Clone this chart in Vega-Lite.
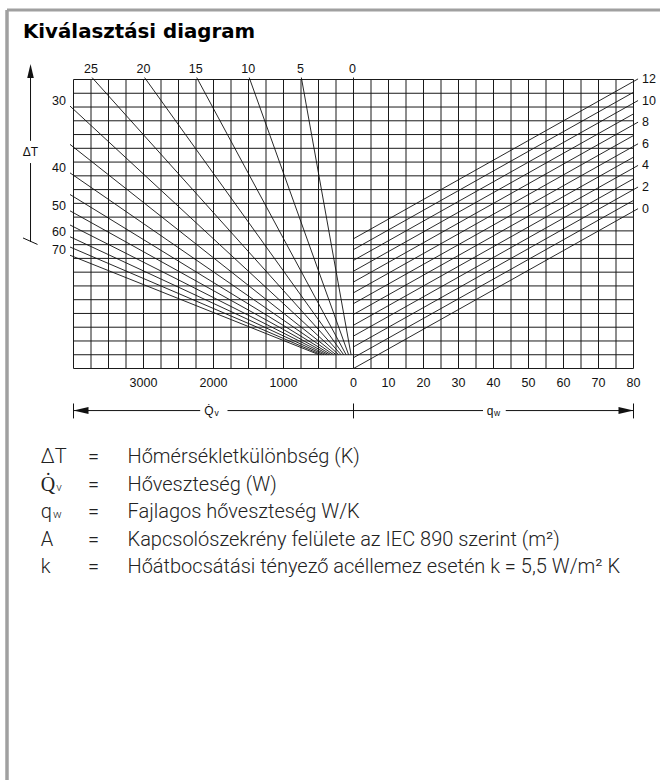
{
"$schema":"https://vega.github.io/schema/vega-lite/v6.json",
"width":653,"height":770,
"autosize":{"type":"none"},
"padding":{"left":7,"top":10,"right":0,"bottom":0},
"background":"#ffffff",
"title":{"text":"Kiválasztási diagram","anchor":"start","frame":"group","offset":-34,"dx":16,"fontSize":19.8,"fontWeight":"bold","font":"DejaVu Sans","color":"#000000"},
"config":{"view":{"stroke":null},"text":{"font":"Liberation Sans","color":"#111111"}},
"datasets":{
"vgridL":[{"Qv":250},{"Qv":500},{"Qv":750},{"Qv":1000},{"Qv":1250},{"Qv":1500},{"Qv":1750},{"Qv":2000},{"Qv":2250},{"Qv":2500},{"Qv":2750},{"Qv":3000},{"Qv":3250},{"Qv":3500},{"Qv":3750},{"Qv":4000}],
"vgridR":[{"qw":0},{"qw":5},{"qw":10},{"qw":15},{"qw":20},{"qw":25},{"qw":30},{"qw":35},{"qw":40},{"qw":45},{"qw":50},{"qw":55},{"qw":60},{"qw":65},{"qw":70},{"qw":75},{"qw":80}],
"hgrid":[{"u":0},{"u":7},{"u":14},{"u":21},{"u":28},{"u":35},{"u":42},{"u":49},{"u":56},{"u":63},{"u":70},{"u":77},{"u":84},{"u":91},{"u":98},{"u":105},{"u":112},{"u":119},{"u":126},{"u":133},{"u":140},{"u":147}],
"fan":[
{"dT":0,"Qv1":0,"u1":148,"Qv2":0,"u2":7},
{"dT":5,"Qv1":745,"u1":148,"Qv2":35,"u2":7},
{"dT":10,"Qv1":1490,"u1":148,"Qv2":70,"u2":7},
{"dT":15,"Qv1":2240,"u1":148,"Qv2":106,"u2":7},
{"dT":20,"Qv1":2985,"u1":148,"Qv2":141,"u2":7},
{"dT":25,"Qv1":3735,"u1":148,"Qv2":177,"u2":7},
{"dT":30,"Qv1":4050,"u1":133.5,"Qv2":212,"u2":7},
{"dT":35,"Qv1":4050,"u1":114,"Qv2":249,"u2":7},
{"dT":40,"Qv1":4050,"u1":99.5,"Qv2":285,"u2":7},
{"dT":45,"Qv1":4050,"u1":88.5,"Qv2":320,"u2":7},
{"dT":50,"Qv1":4050,"u1":80.2,"Qv2":354,"u2":7},
{"dT":55,"Qv1":4050,"u1":73,"Qv2":388,"u2":7},
{"dT":60,"Qv1":4050,"u1":67,"Qv2":423,"u2":7},
{"dT":65,"Qv1":4050,"u1":61.8,"Qv2":459,"u2":7},
{"dT":70,"Qv1":4050,"u1":57.6,"Qv2":492,"u2":7}],
"alines":[
{"A":0,"q1":0,"u1":0,"q2":81.3,"u2":81.3},
{"A":1,"q1":0,"u1":5.5,"q2":80,"u2":85.5},
{"A":2,"q1":0,"u1":11,"q2":81.3,"u2":92.3},
{"A":3,"q1":0,"u1":16.5,"q2":80,"u2":96.5},
{"A":4,"q1":0,"u1":22,"q2":81.3,"u2":103.3},
{"A":5,"q1":0,"u1":27.5,"q2":80,"u2":107.5},
{"A":6,"q1":0,"u1":33,"q2":81.3,"u2":114.3},
{"A":7,"q1":0,"u1":38.5,"q2":80,"u2":118.5},
{"A":8,"q1":0,"u1":44,"q2":81.3,"u2":125.3},
{"A":9,"q1":0,"u1":49.5,"q2":80,"u2":129.5},
{"A":10,"q1":0,"u1":55,"q2":81.3,"u2":136.3},
{"A":11,"q1":0,"u1":60.5,"q2":80,"u2":140.5},
{"A":12,"q1":0,"u1":66,"q2":81.3,"u2":147.3}],
"ticksL":[{"Qv":1000},{"Qv":2000},{"Qv":3000}],
"ticksR":[{"qw":0},{"qw":10},{"qw":20},{"qw":30},{"qw":40},{"qw":50},{"qw":60},{"qw":70},{"qw":80}],
"legend":[
{"sym":"ΔT","sub":"","desc":"Hőmérsékletkülönbség (K)"},
{"sym":"Q\u0307","sub":"v","desc":"Hőveszteség (W)"},
{"sym":"q","sub":"w","desc":"Fajlagos hőveszteség W/K"},
{"sym":"A","sub":"","desc":"Kapcsolószekrény felülete az IEC 890 szerint (m²)"},
{"sym":"k","sub":"","desc":"Hőátbocsátási tényező acéllemez esetén k = 5,5 W/m² K"}]
},
"layer":[
{"layer":[
 {"data":{"values":[{}]},"mark":{"type":"rule","stroke":"#a0a0a0","strokeWidth":3.5},
  "encoding":{"x":{"datum":4950,"type":"quantitative","scale":{"domain":[4950,-4378.571],"nice":false,"zero":false},"axis":null},
   "y":{"datum":-209.3098,"type":"quantitative","scale":{"domain":[-209.3098,182.3514],"nice":false,"zero":false},"axis":null},"y2":{"datum":182.3514}}},
 {"data":{"values":[{}]},"mark":{"type":"rule","stroke":"#a0a0a0","strokeWidth":3},
  "encoding":{"x":{"datum":4950,"type":"quantitative","scale":{"domain":[4950,-4378.571],"nice":false,"zero":false},"axis":null},"x2":{"datum":-4378.571},
   "y":{"datum":182.3514,"type":"quantitative","scale":{"domain":[-209.3098,182.3514],"nice":false,"zero":false},"axis":null}}},
 {"data":{"name":"vgridL"},"mark":{"type":"rule","stroke":"#1a1a1a","strokeWidth":1},
  "encoding":{"x":{"field":"Qv","type":"quantitative","scale":{"domain":[4950,-4378.571],"nice":false,"zero":false},"axis":null},
   "y":{"datum":0,"type":"quantitative","scale":{"domain":[-209.3098,182.3514],"nice":false,"zero":false},"axis":null},"y2":{"datum":147}}},
 {"data":{"name":"hgrid"},"mark":{"type":"rule","stroke":"#1a1a1a","strokeWidth":1},
  "encoding":{"y":{"field":"u","type":"quantitative","scale":{"domain":[-209.3098,182.3514],"nice":false,"zero":false},"axis":null},
   "x":{"datum":0,"type":"quantitative","scale":{"domain":[4950,-4378.571],"nice":false,"zero":false},"axis":null},"x2":{"datum":4000}}},
 {"data":{"name":"fan"},"mark":{"type":"rule","stroke":"#111111","strokeWidth":0.9},
  "encoding":{"x":{"field":"Qv1","type":"quantitative","scale":{"domain":[4950,-4378.571],"nice":false,"zero":false},"axis":null},"x2":{"field":"Qv2"},
   "y":{"field":"u1","type":"quantitative","scale":{"domain":[-209.3098,182.3514],"nice":false,"zero":false},"axis":null},"y2":{"field":"u2"}}},
 {"data":{"name":"fan"},"transform":[{"filter":"datum.dT >= 30 && datum.dT % 10 == 0"}],
  "mark":{"type":"text","align":"right","baseline":"middle","dx":-4,"dy":-5,"fontSize":12.5},
  "encoding":{"x":{"field":"Qv1","type":"quantitative","scale":{"domain":[4950,-4378.571],"nice":false,"zero":false},"axis":null},
   "y":{"field":"u1","type":"quantitative","scale":{"domain":[-209.3098,182.3514],"nice":false,"zero":false},"axis":null},
   "text":{"field":"dT","type":"quantitative"}}},
 {"data":{"name":"fan"},"transform":[{"filter":"datum.dT <= 25"}],
  "mark":{"type":"text","align":"center","baseline":"middle","dx":-1,"dy":-8.5,"fontSize":12.5},
  "encoding":{"x":{"field":"Qv1","type":"quantitative","scale":{"domain":[4950,-4378.571],"nice":false,"zero":false},"axis":null},
   "y":{"field":"u1","type":"quantitative","scale":{"domain":[-209.3098,182.3514],"nice":false,"zero":false},"axis":null},
   "text":{"field":"dT","type":"quantitative"}}},
 {"data":{"name":"ticksL"},"mark":{"type":"text","align":"center","baseline":"middle","dy":14,"fontSize":12.5},
  "encoding":{"x":{"field":"Qv","type":"quantitative","scale":{"domain":[4950,-4378.571],"nice":false,"zero":false},"axis":null},
   "y":{"datum":0,"type":"quantitative","scale":{"domain":[-209.3098,182.3514],"nice":false,"zero":false},"axis":null},
   "text":{"field":"Qv","type":"quantitative","format":"d"}}},
 {"data":{"values":[{}]},"mark":{"type":"rule","stroke":"#111111","strokeWidth":1},
  "encoding":{"x":{"datum":4000,"type":"quantitative","scale":{"domain":[4950,-4378.571],"nice":false,"zero":false},"axis":null},"x2":{"datum":2190},
   "y":{"datum":-21.4,"type":"quantitative","scale":{"domain":[-209.3098,182.3514],"nice":false,"zero":false},"axis":null}}},
 {"data":{"values":[{}]},"mark":{"type":"rule","stroke":"#111111","strokeWidth":1},
  "encoding":{"x":{"datum":1800,"type":"quantitative","scale":{"domain":[4950,-4378.571],"nice":false,"zero":false},"axis":null},"x2":{"datum":0},
   "y":{"datum":-21.4,"type":"quantitative","scale":{"domain":[-209.3098,182.3514],"nice":false,"zero":false},"axis":null}}},
 {"data":{"values":[{}]},"mark":{"type":"rule","stroke":"#111111","strokeWidth":1},
  "encoding":{"x":{"datum":4000,"type":"quantitative","scale":{"domain":[4950,-4378.571],"nice":false,"zero":false},"axis":null},
   "y":{"datum":-17.8,"type":"quantitative","scale":{"domain":[-209.3098,182.3514],"nice":false,"zero":false},"axis":null},"y2":{"datum":-25.4}}},
 {"data":{"values":[{}]},"mark":{"type":"point","shape":"M 0 0 L 2 -0.47 L 2 0.47 Z","size":225,"filled":true,"color":"#111111","opacity":1,"strokeWidth":0},
  "encoding":{"x":{"datum":4000,"type":"quantitative","scale":{"domain":[4950,-4378.571],"nice":false,"zero":false},"axis":null},
   "y":{"datum":-21.4,"type":"quantitative","scale":{"domain":[-209.3098,182.3514],"nice":false,"zero":false},"axis":null}}},
 {"data":{"values":[{}]},"mark":{"type":"text","align":"right","baseline":"middle","fontSize":12},
  "encoding":{"x":{"datum":2000,"type":"quantitative","scale":{"domain":[4950,-4378.571],"nice":false,"zero":false},"axis":null},
   "y":{"datum":-21.4,"type":"quantitative","scale":{"domain":[-209.3098,182.3514],"nice":false,"zero":false},"axis":null},"text":{"value":"Q\u0307"}}},
 {"data":{"values":[{}]},"mark":{"type":"text","align":"left","baseline":"middle","fontSize":8.5,"dx":1,"dy":2.5},
  "encoding":{"x":{"datum":2000,"type":"quantitative","scale":{"domain":[4950,-4378.571],"nice":false,"zero":false},"axis":null},
   "y":{"datum":-21.4,"type":"quantitative","scale":{"domain":[-209.3098,182.3514],"nice":false,"zero":false},"axis":null},"text":{"value":"v"}}},
 {"data":{"values":[{}]},"mark":{"type":"rule","stroke":"#111111","strokeWidth":1},
  "encoding":{"x":{"datum":4614,"type":"quantitative","scale":{"domain":[4950,-4378.571],"nice":false,"zero":false},"axis":null},
   "y":{"datum":147.8,"type":"quantitative","scale":{"domain":[-209.3098,182.3514],"nice":false,"zero":false},"axis":null},"y2":{"datum":115.8}}},
 {"data":{"values":[{}]},"mark":{"type":"rule","stroke":"#111111","strokeWidth":1},
  "encoding":{"x":{"datum":4614,"type":"quantitative","scale":{"domain":[4950,-4378.571],"nice":false,"zero":false},"axis":null},
   "y":{"datum":104.5,"type":"quantitative","scale":{"domain":[-209.3098,182.3514],"nice":false,"zero":false},"axis":null},"y2":{"datum":64.4}}},
 {"data":{"values":[{}]},"mark":{"type":"rule","stroke":"#111111","strokeWidth":1},
  "encoding":{"x":{"datum":4721,"type":"quantitative","scale":{"domain":[4950,-4378.571],"nice":false,"zero":false},"axis":null},"x2":{"datum":4514},
   "y":{"datum":66.4,"type":"quantitative","scale":{"domain":[-209.3098,182.3514],"nice":false,"zero":false},"axis":null},"y2":{"datum":63.1}}},
 {"data":{"values":[{}]},"mark":{"type":"point","shape":"M 0 0 L -0.47 2 L 0.47 2 Z","size":196,"filled":true,"color":"#111111","opacity":1,"strokeWidth":0},
  "encoding":{"x":{"datum":4614,"type":"quantitative","scale":{"domain":[4950,-4378.571],"nice":false,"zero":false},"axis":null},
   "y":{"datum":154.9,"type":"quantitative","scale":{"domain":[-209.3098,182.3514],"nice":false,"zero":false},"axis":null}}},
 {"data":{"values":[{}]},"mark":{"type":"text","align":"center","baseline":"middle","fontSize":12},
  "encoding":{"x":{"datum":4614,"type":"quantitative","scale":{"domain":[4950,-4378.571],"nice":false,"zero":false},"axis":null},
   "y":{"datum":109.9,"type":"quantitative","scale":{"domain":[-209.3098,182.3514],"nice":false,"zero":false},"axis":null},"text":{"value":"ΔT"}}}
]},
{"layer":[
 {"data":{"name":"vgridR"},"mark":{"type":"rule","stroke":"#1a1a1a","strokeWidth":1},
  "encoding":{"x":{"field":"qw","type":"quantitative","scale":{"domain":[-99,87.5714286],"nice":false,"zero":false},"axis":null},
   "y":{"datum":0,"type":"quantitative","scale":{"domain":[-209.3098,182.3514],"nice":false,"zero":false},"axis":null},"y2":{"datum":147}}},
 {"data":{"name":"hgrid"},"mark":{"type":"rule","stroke":"#1a1a1a","strokeWidth":1},
  "encoding":{"y":{"field":"u","type":"quantitative","scale":{"domain":[-209.3098,182.3514],"nice":false,"zero":false},"axis":null},
   "x":{"datum":0,"type":"quantitative","scale":{"domain":[-99,87.5714286],"nice":false,"zero":false},"axis":null},"x2":{"datum":80}}},
 {"data":{"name":"alines"},"mark":{"type":"rule","stroke":"#111111","strokeWidth":0.9},
  "encoding":{"x":{"field":"q1","type":"quantitative","scale":{"domain":[-99,87.5714286],"nice":false,"zero":false},"axis":null},"x2":{"field":"q2"},
   "y":{"field":"u1","type":"quantitative","scale":{"domain":[-209.3098,182.3514],"nice":false,"zero":false},"axis":null},"y2":{"field":"u2"}}},
 {"data":{"name":"alines"},"transform":[{"filter":"datum.A % 2 == 0"}],
  "mark":{"type":"text","align":"left","baseline":"middle","dx":4,"fontSize":12.5},
  "encoding":{"x":{"field":"q2","type":"quantitative","scale":{"domain":[-99,87.5714286],"nice":false,"zero":false},"axis":null},
   "y":{"field":"u2","type":"quantitative","scale":{"domain":[-209.3098,182.3514],"nice":false,"zero":false},"axis":null},
   "text":{"field":"A","type":"quantitative"}}},
 {"data":{"name":"ticksR"},"mark":{"type":"text","align":"center","baseline":"middle","dy":14,"fontSize":12.5},
  "encoding":{"x":{"field":"qw","type":"quantitative","scale":{"domain":[-99,87.5714286],"nice":false,"zero":false},"axis":null},
   "y":{"datum":0,"type":"quantitative","scale":{"domain":[-209.3098,182.3514],"nice":false,"zero":false},"axis":null},
   "text":{"field":"qw","type":"quantitative","format":"d"}}},
 {"data":{"values":[{}]},"mark":{"type":"rule","stroke":"#111111","strokeWidth":1},
  "encoding":{"x":{"datum":0,"type":"quantitative","scale":{"domain":[-99,87.5714286],"nice":false,"zero":false},"axis":null},"x2":{"datum":37},
   "y":{"datum":-21.4,"type":"quantitative","scale":{"domain":[-209.3098,182.3514],"nice":false,"zero":false},"axis":null}}},
 {"data":{"values":[{}]},"mark":{"type":"rule","stroke":"#111111","strokeWidth":1},
  "encoding":{"x":{"datum":43.5,"type":"quantitative","scale":{"domain":[-99,87.5714286],"nice":false,"zero":false},"axis":null},"x2":{"datum":80},
   "y":{"datum":-21.4,"type":"quantitative","scale":{"domain":[-209.3098,182.3514],"nice":false,"zero":false},"axis":null}}},
 {"data":{"values":[{"qw":0},{"qw":80}]},"mark":{"type":"rule","stroke":"#111111","strokeWidth":1},
  "encoding":{"x":{"field":"qw","type":"quantitative","scale":{"domain":[-99,87.5714286],"nice":false,"zero":false},"axis":null},
   "y":{"datum":-17.8,"type":"quantitative","scale":{"domain":[-209.3098,182.3514],"nice":false,"zero":false},"axis":null},"y2":{"datum":-25.4}}},
 {"data":{"values":[{}]},"mark":{"type":"point","shape":"M 0 0 L -2 -0.47 L -2 0.47 Z","size":225,"filled":true,"color":"#111111","opacity":1,"strokeWidth":0},
  "encoding":{"x":{"datum":80,"type":"quantitative","scale":{"domain":[-99,87.5714286],"nice":false,"zero":false},"axis":null},
   "y":{"datum":-21.4,"type":"quantitative","scale":{"domain":[-209.3098,182.3514],"nice":false,"zero":false},"axis":null}}},
 {"data":{"values":[{}]},"mark":{"type":"text","align":"right","baseline":"middle","fontSize":12},
  "encoding":{"x":{"datum":40,"type":"quantitative","scale":{"domain":[-99,87.5714286],"nice":false,"zero":false},"axis":null},
   "y":{"datum":-21.4,"type":"quantitative","scale":{"domain":[-209.3098,182.3514],"nice":false,"zero":false},"axis":null},"text":{"value":"q"}}},
 {"data":{"values":[{}]},"mark":{"type":"text","align":"left","baseline":"middle","fontSize":8.5,"dx":0.5,"dy":2.5},
  "encoding":{"x":{"datum":40,"type":"quantitative","scale":{"domain":[-99,87.5714286],"nice":false,"zero":false},"axis":null},
   "y":{"datum":-21.4,"type":"quantitative","scale":{"domain":[-209.3098,182.3514],"nice":false,"zero":false},"axis":null},"text":{"value":"w"}}}
]},
{"data":{"name":"legend"},"layer":[
 {"mark":{"type":"text","align":"left","baseline":"middle","fontSize":20,"font":"Roboto","fontWeight":300,"color":"#222222"},
  "encoding":{"x":{"datum":"sym","type":"nominal","scale":{"type":"point","domain":["sym","desc"],"range":[33.8,120.5],"padding":0},"axis":null},
   "y":{"field":"sym","type":"nominal","scale":{"type":"point","domain":["ΔT","Q\u0307","q","A","k"],"range":[447,557],"padding":0},"axis":null},
   "text":{"field":"sym"}}},
 {"mark":{"type":"text","align":"right","baseline":"middle","fontSize":11.5,"dx":21,"dy":3,"font":"Roboto","fontWeight":300,"color":"#222222"},
  "encoding":{"x":{"datum":"sym","type":"nominal","scale":{"type":"point","domain":["sym","desc"],"range":[33.8,120.5],"padding":0},"axis":null},
   "y":{"field":"sym","type":"nominal","scale":{"type":"point","domain":["ΔT","Q\u0307","q","A","k"],"range":[447,557],"padding":0},"axis":null},
   "text":{"field":"sub"}}},
 {"mark":{"type":"text","align":"center","baseline":"middle","fontSize":20,"dx":-34,"font":"Roboto","fontWeight":300,"color":"#222222"},
  "encoding":{"x":{"datum":"desc","type":"nominal","scale":{"type":"point","domain":["sym","desc"],"range":[33.8,120.5],"padding":0},"axis":null},
   "y":{"field":"sym","type":"nominal","scale":{"type":"point","domain":["ΔT","Q\u0307","q","A","k"],"range":[447,557],"padding":0},"axis":null},
   "text":{"value":"="}}},
 {"mark":{"type":"text","align":"left","baseline":"middle","fontSize":20,"font":"Roboto","fontWeight":300,"color":"#222222"},
  "encoding":{"x":{"datum":"desc","type":"nominal","scale":{"type":"point","domain":["sym","desc"],"range":[33.8,120.5],"padding":0},"axis":null},
   "y":{"field":"sym","type":"nominal","scale":{"type":"point","domain":["ΔT","Q\u0307","q","A","k"],"range":[447,557],"padding":0},"axis":null},
   "text":{"field":"desc"}}}
]}
],
"resolve":{"scale":{"x":"independent","y":"independent"}}
}
